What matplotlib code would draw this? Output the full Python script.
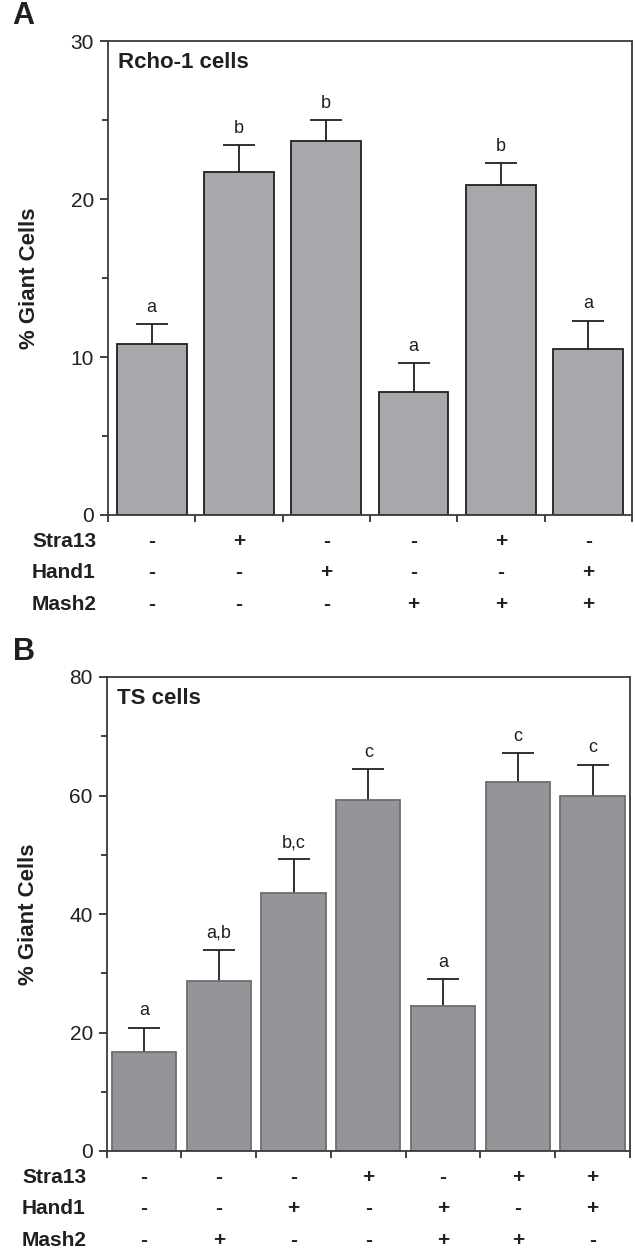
import matplotlib.pyplot as plt
from matplotlib.ticker import MultipleLocator
from matplotlib.transforms import blended_transform_factory

plt.rcParams['font.family'] = ['Liberation Sans', 'DejaVu Sans']

# panel A: Rcho-1 cells
a_means = [10.8, 21.7, 23.7, 7.8, 20.9, 10.5]
a_errs = [1.3, 1.7, 1.3, 1.8, 1.4, 1.8]
a_letters = ['a', 'b', 'b', 'a', 'b', 'a']
a_stra13 = ['-', '+', '-', '-', '+', '-']
a_hand1 = ['-', '-', '+', '-', '-', '+']
a_mash2 = ['-', '-', '-', '+', '+', '+']

# panel B: TS cells
b_means = [16.7, 28.7, 43.6, 59.3, 24.5, 62.2, 59.9]
b_errs = [4.1, 5.3, 5.6, 5.2, 4.5, 5.0, 5.3]
b_letters = ['a', 'a,b', 'b,c', 'c', 'a', 'c', 'c']
b_stra13 = ['-', '-', '-', '+', '-', '+', '+']
b_hand1 = ['-', '-', '+', '-', '+', '-', '+']
b_mash2 = ['-', '+', '-', '-', '+', '+', '-']

row_names = ['Stra13', 'Hand1', 'Mash2']
dark = '#231f20'

fig = plt.figure(figsize=(6.35, 12.5), dpi=100)


def panel(rect, means, errs, letters, rows, ymax, major, face, edge,
          bar_w, title, tag, label_x):
    ax = fig.add_axes(rect)
    n = len(means)
    x = list(range(n))
    tops = [m + e for m, e in zip(means, errs)]
    ax.bar(x, means, width=bar_w, color=face, edgecolor=edge, linewidth=1.3, zorder=2)
    # upper error bars only (stem + cap)
    ax.vlines(x, means, tops, color=dark, linewidth=1.3, zorder=1)
    ax.plot(x, tops, ls='none', marker='_', markersize=22.5, markeredgewidth=1.3,
            color=dark, zorder=3)
    for xi, t, lab in zip(x, tops, letters):
        ax.annotate(lab, (xi, t), xytext=(0, 6), textcoords='offset points',
                    ha='center', va='bottom', fontsize=13, color=dark)
    ax.set_xlim(-0.5, n - 0.5)
    ax.set_ylim(0, ymax)
    ax.yaxis.set_major_locator(MultipleLocator(major))
    ax.yaxis.set_minor_locator(MultipleLocator(major / 2))
    ax.set_xticks([i - 0.5 for i in range(n + 1)])
    ax.set_xticklabels([])
    ax.tick_params(axis='y', which='major', length=6, width=1.2, labelsize=15,
                   colors=dark, pad=4)
    ax.tick_params(axis='y', which='minor', length=4, width=1.2, colors=dark)
    ax.tick_params(axis='x', length=5, width=1.2, colors=dark)
    for s in ax.spines.values():
        s.set_linewidth(1.3)
        s.set_color('#3a3a3a')
    ax.set_ylabel('% Giant Cells', fontsize=16, fontweight='bold', color=dark,
                  labelpad=22)
    ax.text(0.02, 0.955, title, transform=ax.transAxes, fontsize=16,
            fontweight='bold', color=dark, va='center', ha='left')
    fig.text(0.02, rect[1] + rect[3] + 0.02, tag, fontsize=22, fontweight='bold',
             color=dark, va='center', ha='left')
    tr_lab = blended_transform_factory(fig.transFigure, ax.transAxes)
    tr_sym = blended_transform_factory(ax.transData, ax.transAxes)
    for r, (name, signs) in enumerate(zip(row_names, rows)):
        yy = -0.055 - r * 0.0665
        ax.text(label_x, yy, name, transform=tr_lab, fontsize=15, fontweight='bold',
                color=dark, va='center', ha='left', clip_on=False)
        for xi, sg in zip(x, signs):
            ax.text(xi, yy, sg, transform=tr_sym, fontsize=15, fontweight='bold',
                    color=dark, va='center', ha='center', clip_on=False)
    return ax


panel([0.170, 0.588, 0.825, 0.379], a_means, a_errs, a_letters,
      [a_stra13, a_hand1, a_mash2], 30, 10, '#a7a8ab', dark, 0.8,
      'Rcho-1 cells', 'A', 32 / 635)
panel([0.168, 0.0792, 0.824, 0.3792], b_means, b_errs, b_letters,
      [b_stra13, b_hand1, b_mash2], 80, 20, '#939598', '#6d6e71', 0.86,
      'TS cells', 'B', 22 / 635)

fig.savefig('out.png', dpi=100)
